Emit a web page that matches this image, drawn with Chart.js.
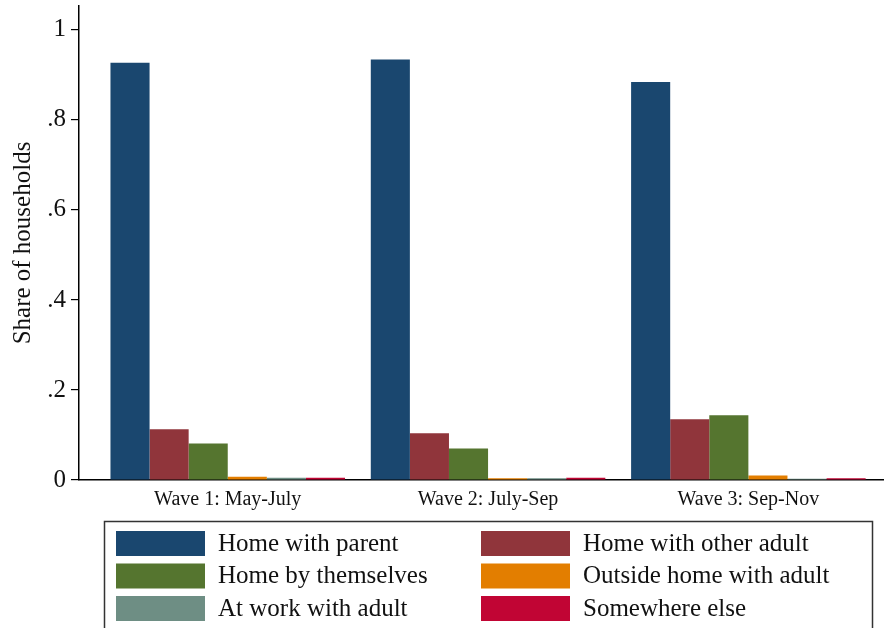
<!DOCTYPE html>
<html>
<head>
<meta charset="utf-8">
<script src="https://cdn.jsdelivr.net/npm/chart.js@4/dist/chart.umd.min.js"></script>
<style>
  html, body { margin: 0; padding: 0; background: #fff; }
  canvas { display: block; }
</style>
</head>
<body>
<canvas id="c" width="884" height="628"></canvas>
<script>
// Survey waves (category axis)
const waves = ['Wave 1: May-July', 'Wave 2: July-Sep', 'Wave 3: Sep-Nov'];
const wavePos = [1, 2, 3];

// Where children stay, share of households per wave
const homeWithParent     = [0.927, 0.934, 0.884];
const homeWithOtherAdult = [0.113, 0.104, 0.135];
const homeByThemselves   = [0.081, 0.070, 0.144];
const outsideWithAdult   = [0.007, 0.004, 0.010];
const atWorkWithAdult    = [0.005, 0.004, 0.003];
const somewhereElse      = [0.005, 0.005, 0.004];

const seriesNames = ['Home with parent', 'Home with other adult', 'Home by themselves',
                     'Outside home with adult', 'At work with adult', 'Somewhere else'];
const seriesValues = [homeWithParent, homeWithOtherAdult, homeByThemselves,
                      outsideWithAdult, atWorkWithAdult, somewhereElse];
const seriesColors = ['#1a476f', '#90353b', '#55752f', '#e37e00', '#6e8e84', '#c10534'];

const yTicks = [0, 0.2, 0.4, 0.6, 0.8, 1];

const SERIF = "'Liberation Serif', 'DejaVu Serif', serif";

const datasets = seriesNames.map((name, i) => ({
  label: name,
  data: seriesValues[i].map((v, j) => ({ x: wavePos[j], y: v })),
  backgroundColor: seriesColors[i],
  borderWidth: 0,
  categoryPercentage: 0.901,
  barPercentage: 1.0
}));

// Two-column boxed legend beneath the plot
const boxedLegend = {
  id: 'boxedLegend',
  afterDraw(chart) {
    const ctx = chart.ctx;
    ctx.save();
    ctx.strokeStyle = '#333';
    ctx.lineWidth = 1.5;
    ctx.strokeRect(104.5, 521.5, 768, 130);
    ctx.font = '25px ' + SERIF;
    ctx.textBaseline = 'middle';
    chart.data.datasets.forEach((ds, i) => {
      const col = i % 2, row = Math.floor(i / 2);
      const sx = col === 0 ? 116 : 481;
      const sy = 531 + row * 32.5;
      ctx.fillStyle = ds.backgroundColor;
      ctx.fillRect(sx, sy, 89, 25);
      ctx.fillStyle = '#111';
      ctx.fillText(ds.label, sx + 102, sy + 13);
    });
    ctx.restore();
  }
};

const noEdgePadding = (s) => {
  s.paddingTop = 0; s.paddingBottom = 0; s.paddingLeft = 0; s.paddingRight = 0;
};

new Chart(document.getElementById('c'), {
  type: 'bar',
  data: { datasets },
  plugins: [boxedLegend],
  options: {
    responsive: false,
    animation: false,
    layout: { padding: { top: 6, right: 0, bottom: 103, left: 0 } },
    plugins: {
      legend: { display: false },
      tooltip: { enabled: false }
    },
    scales: {
      x: {
        type: 'linear',
        offset: false,
        min: 0.4286,
        max: 3.521,
        grid: { display: false },
        border: { display: true, color: '#000', width: 1.5 },
        ticks: {
          stepSize: 1,
          includeBounds: false,
          autoSkip: false,
          maxRotation: 0,
          padding: 0,
          color: '#111',
          font: { family: SERIF, size: 20 },
          callback: (v) => waves[wavePos.indexOf(v)] || ''
        },
        afterFit: (s) => { s.height = 45; noEdgePadding(s); }
      },
      y: {
        min: 0,
        max: 1.053,
        grid: { display: true, drawOnChartArea: false, drawTicks: true, tickLength: 8, color: '#000', lineWidth: 1.2 },
        border: { display: true, color: '#000', width: 1.5 },
        afterBuildTicks: (s) => { s.ticks = yTicks.map(v => ({ value: v })); },
        ticks: {
          padding: 5,
          color: '#111',
          font: { family: SERIF, size: 25 },
          callback: (v) => (v === 0 ? '0' : v === 1 ? '1' : v.toFixed(1).replace(/^0/, ''))
        },
        title: {
          display: true,
          text: 'Share of households',
          color: '#111',
          font: { family: SERIF, size: 25 },
          padding: { top: 8, bottom: 4 }
        },
        afterFit: (s) => { s.width = 79; noEdgePadding(s); }
      }
    }
  }
});
</script>
</body>
</html>
